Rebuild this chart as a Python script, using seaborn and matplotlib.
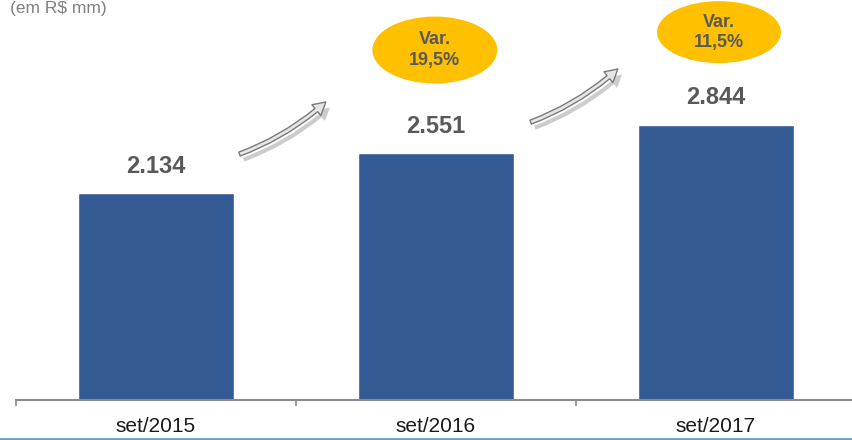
import seaborn as sns
import matplotlib.pyplot as plt
import matplotlib.patheffects as pe
from matplotlib.patches import Ellipse, FancyArrowPatch
import pandas as pd

# dados
periodos = ['set/2015', 'set/2016', 'set/2017']
valores = [2134, 2551, 2844]
rotulos = ['2.134', '2.551', '2.844']
variacoes = ['Var.\n19,5%', 'Var.\n11,5%']

df = pd.DataFrame({'periodo': periodos, 'valor': valores})

sns.set_style('white')
plt.rcParams['font.family'] = ['Liberation Sans', 'DejaVu Sans']

fig = plt.figure(figsize=(8.52, 4.40), dpi=100)
ax = fig.add_axes([16 / 852, 40 / 440, 1 - 16 / 852, 400 / 440])

sns.barplot(data=df, x='periodo', y='valor', color='#345A93', width=0.557,
            saturation=1, ax=ax)

ax.set_xlim(-0.5, 2.486)
ax.set_ylim(0, 4133)
ax.set_xlabel('')
ax.set_ylabel('')
ax.set_yticks([])
ax.set_xticks([-0.5, 0.5, 1.5])
ax.set_xticklabels([])
ax.tick_params(axis='x', direction='out', length=4, width=1.2, color='#8c8c8c', bottom=True)
for s in ['top', 'right', 'left']:
    ax.spines[s].set_visible(False)
ax.spines['bottom'].set_color('#8c8c8c')
ax.spines['bottom'].set_linewidth(1.5)

# rótulos das categorias
for i, p in enumerate(periodos):
    ax.text(i, -375, p, ha='center', va='bottom', fontsize=15, color='#1a1a1a')

# valores
for i, (v, r) in enumerate(zip(valores, rotulos)):
    ax.text(i, v + 160, r, ha='center', va='bottom', fontsize=17, fontweight='bold',
            color='#595959')

# elipses de variação
elipses = [(0.996, 3616, 0.446, 692), (2.011, 3801, 0.443, 640)]
for (cx, cy, w, h), t in zip(elipses, variacoes):
    ax.add_patch(Ellipse((cx, cy), w, h, facecolor='#FFC000', edgecolor='none',
                         clip_on=False, zorder=3))
    ax.text(cx, cy, t, ha='center', va='center', fontsize=13, fontweight='bold',
            color='#595959', linespacing=1.25, zorder=4)

# setas
setas = [((0.289, 2531), (0.614, 3099)), ((1.329, 2861), (1.657, 3440))]
for a, b in setas:
    arr = FancyArrowPatch(a, b, connectionstyle='arc3,rad=0.1',
                          arrowstyle='simple,head_length=9,head_width=10,tail_width=3',
                          facecolor='#e6e6e6', edgecolor='#7a7a7a', linewidth=1.0,
                          zorder=3, clip_on=False,
                          path_effects=[pe.SimplePatchShadow(offset=(3, -4), shadow_rgbFace='#9a9a9a', alpha=0.5),
                                        pe.Normal()])
    ax.add_patch(arr)

fig.text(10 / 852, 1.0 - 1 / 440, '(em R$ mm)', ha='left', va='top', fontsize=12.5,
         color='#7f7f7f')

# linha azul inferior
fig.add_artist(plt.Line2D([0, 1], [1.5 / 440, 1.5 / 440], color='#5BA3D0', linewidth=2))

fig.savefig('out.png', dpi=100)
